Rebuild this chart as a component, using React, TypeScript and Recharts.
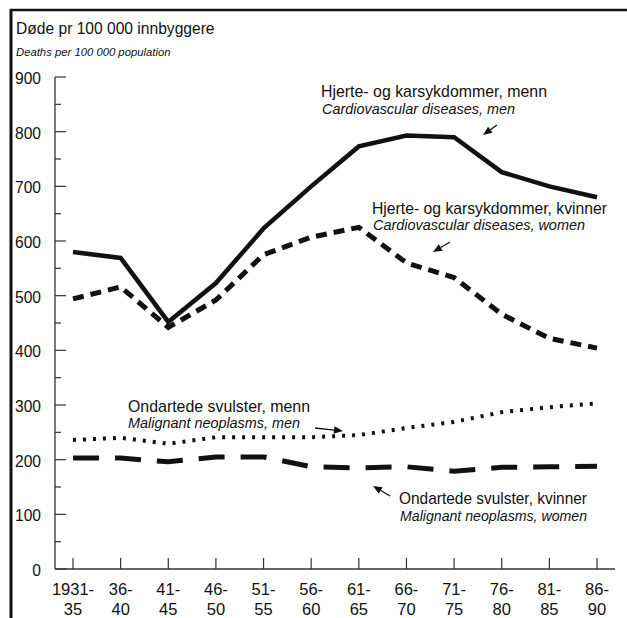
import React from 'react';
import { LineChart, Line, XAxis, YAxis } from 'recharts';

const categories = ['1931-35', '36-40', '41-45', '46-50', '51-55', '56-60', '61-65', '66-70', '71-75', '76-80', '81-85', '86-90'];
const cvdMen = [580, 569, 452, 523, 623, 700, 773, 793, 790, 726, 700, 680];
const cvdWomen = [494, 516, 442, 492, 575, 607, 625, 560, 533, 466, 422, 404];
const malMen = [236, 240, 229, 241, 241, 241, 245, 258, 269, 287, 296, 303];
const malWomen = [203, 203, 196, 205, 205, 187, 185, 187, 179, 186, 187, 188];
const yTicks = [0, 50, 100, 150, 200, 250, 300, 350, 400, 450, 500, 550, 600, 650, 700, 750, 800, 850, 900];

const data = categories.map((c, i) => ({
  period: c,
  cvdMen: cvdMen[i],
  cvdWomen: cvdWomen[i],
  malMen: malMen[i],
  malWomen: malWomen[i],
}));

const FONT = '"Liberation Sans", Arial, Helvetica, sans-serif';
const INK = '#111';

function YTick(props: any) {
  const { x, y, payload } = props;
  const v = payload.value;
  const major = v % 100 === 0;
  return (
    <g>
      <line x1={x} y1={y} x2={x + (major ? 11 : 6)} y2={y} stroke="#333" strokeWidth={1.2} />
      {major && (
        <text x={x - 14} y={y + 7} textAnchor="end" fontSize={15.6} fontFamily={FONT} fill={INK}>
          {v}
        </text>
      )}
    </g>
  );
}

function XTick(props: any) {
  const { x, y, payload } = props;
  const parts = String(payload.value).split('-');
  return (
    <g>
      <line x1={x} y1={y} x2={x} y2={y - 11} stroke="#333" strokeWidth={1.2} />
      <text x={x} y={y + 26} textAnchor="middle" fontSize={16.5} fontFamily={FONT} fill={INK}>
        {parts[0] + '-'}
      </text>
      <text x={x} y={y + 45.5} textAnchor="middle" fontSize={16.5} fontFamily={FONT} fill={INK}>
        {parts[1]}
      </text>
    </g>
  );
}

function Arrow({ x1, y1, x2, y2 }: { x1: number; y1: number; x2: number; y2: number }) {
  const dx = x2 - x1;
  const dy = y2 - y1;
  const len = Math.sqrt(dx * dx + dy * dy);
  const ux = dx / len;
  const uy = dy / len;
  const hl = 9;
  const hw = 3.8;
  const bx = x2 - ux * hl;
  const by = y2 - uy * hl;
  const p1 = `${x2},${y2}`;
  const p2 = `${bx - uy * hw},${by + ux * hw}`;
  const p3 = `${bx + uy * hw},${by - ux * hw}`;
  return (
    <g>
      <line x1={x1} y1={y1} x2={bx} y2={by} stroke={INK} strokeWidth={1.3} />
      <polygon points={`${p1} ${p2} ${p3}`} fill={INK} />
    </g>
  );
}

function Label({ x, y, w, italic, children }: { x: number; y: number; w: number; italic?: boolean; children: string }) {
  return (
    <text
      x={x}
      y={y}
      fontSize={italic ? 14 : 16.6}
      fontStyle={italic ? 'italic' : 'normal'}
      textLength={w}
      lengthAdjust="spacingAndGlyphs"
    >
      {children}
    </text>
  );
}

export default function App() {
  return (
    <div style={{ position: 'absolute', left: 0, top: 0, width: 627, height: 618, background: '#fff' }}>
      <LineChart
        width={627}
        height={618}
        data={data}
        margin={{ top: 77, right: 12, bottom: 0, left: 8 }}
      >
        <XAxis
          dataKey="period"
          type="category"
          height={49}
          padding={{ left: 18, right: 18 }}
          axisLine={{ stroke: '#333', strokeWidth: 1.3 }}
          tickLine={false}
          tickSize={0}
          tickMargin={0}
          interval={0}
          tick={<XTick />}
        />
        <YAxis
          domain={[0, 900]}
          ticks={yTicks}
          width={47}
          axisLine={{ stroke: '#333', strokeWidth: 1.3 }}
          tickLine={false}
          tickSize={0}
          tickMargin={0}
          interval={0}
          tick={<YTick />}
        />
        <Line
          dataKey="cvdMen"
          type="linear"
          stroke={INK}
          strokeWidth={4.5}
          dot={false}
          activeDot={false}
          isAnimationActive={false}
        />
        <Line
          dataKey="cvdWomen"
          type="linear"
          stroke={INK}
          strokeWidth={5}
          strokeDasharray="11 7"
          dot={false}
          activeDot={false}
          isAnimationActive={false}
        />
        <Line
          dataKey="malMen"
          type="linear"
          stroke={INK}
          strokeWidth={4}
          strokeDasharray="3 7"
          dot={false}
          activeDot={false}
          isAnimationActive={false}
        />
        <Line
          dataKey="malWomen"
          type="linear"
          stroke={INK}
          strokeWidth={5}
          strokeDasharray="26 16"
          dot={false}
          activeDot={false}
          isAnimationActive={false}
        />
      </LineChart>
      <svg
        width={627}
        height={618}
        style={{ position: 'absolute', left: 0, top: 0, pointerEvents: 'none' }}
      >
        <line x1={11} y1={9} x2={11} y2={618} stroke={INK} strokeWidth={3} />
        <line x1={10} y1={10} x2={627} y2={10} stroke={INK} strokeWidth={2.5} />
        <g fontFamily={FONT} fill={INK}>
          <text x={16} y={34} fontSize={15.6}>Døde pr 100 000 innbyggere</text>
          <text x={16} y={56} fontSize={11.3} fontStyle="italic">Deaths per 100 000 population</text>
          <Label x={321} y={97} w={226}>Hjerte- og karsykdommer, menn</Label>
          <Label x={322} y={114} w={193} italic>Cardiovascular diseases, men</Label>
          <Label x={372} y={214} w={235}>Hjerte- og karsykdommer, kvinner</Label>
          <Label x={373} y={230} w={212} italic>Cardiovascular diseases, women</Label>
          <Label x={128} y={412} w={182}>Ondartede svulster, menn</Label>
          <Label x={128} y={428} w={172} italic>Malignant neoplasms, men</Label>
          <Label x={399} y={504} w={188}>Ondartede svulster, kvinner</Label>
          <Label x={400} y={521} w={187} italic>Malignant neoplasms, women</Label>
        </g>
        <Arrow x1={497} y1={125} x2={483} y2={135} />
        <Arrow x1={450} y1={242} x2={433} y2={252} />
        <Arrow x1={315} y1={428} x2={343} y2={431} />
        <Arrow x1={390} y1={496} x2={373} y2={486} />
      </svg>
    </div>
  );
}
